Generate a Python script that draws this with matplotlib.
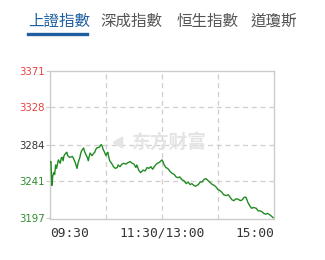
import matplotlib
matplotlib.use("Agg")
import matplotlib.pyplot as plt

# Index tabs
tabs = ["上證指數", "深成指數", "恒生指數", "道瓊斯"]
tab_x = [28, 100, 177, 251]

# Intraday series: minutes since 09:30 (trading minutes), index level
minutes = [0, 1, 2, 3, 4, 5, 6, 7, 9, 11, 12, 13, 14, 15, 17, 18, 19, 21, 24, 25,
           27, 29, 30, 32, 33, 34, 36, 37, 39, 40, 41, 42, 43, 45, 47, 48, 49, 50, 53, 54,
           55, 56, 57, 58, 60, 61, 62, 63, 64, 66, 68, 70, 72, 73, 75, 77, 79, 81, 84, 86,
           88, 90, 92, 93, 95, 97, 100, 102, 104, 106, 108, 110, 113, 115, 117, 118, 120, 121, 122, 124,
           126, 129, 131, 133, 135, 137, 139, 141, 144, 146, 148, 150, 152, 154, 156, 159, 161, 163, 165, 167,
           169, 171, 174, 176, 178, 180, 182, 184, 186, 189, 191, 193, 195, 197, 199, 201, 204, 206, 208, 210,
           212, 214, 216, 218, 221, 223, 225, 227, 229, 231, 233, 236, 238, 239]
prices = [3264, 3264, 3236, 3247, 3251, 3249, 3260, 3256, 3266, 3262, 3268, 3269, 3265, 3271, 3274, 3275, 3271, 3269, 3270, 3268,
          3263, 3256, 3262, 3269, 3274, 3277, 3280, 3276, 3271, 3269, 3265, 3270, 3274, 3271, 3274, 3275, 3278, 3280, 3281, 3283,
          3284, 3282, 3278, 3276, 3271, 3274, 3275, 3269, 3265, 3262, 3258, 3256, 3257, 3260, 3258, 3261, 3262, 3261, 3263, 3264,
          3262, 3261, 3257, 3260, 3254, 3251, 3254, 3253, 3257, 3256, 3258, 3255, 3260, 3262, 3263, 3264, 3266, 3264, 3261, 3257,
          3256, 3252, 3250, 3249, 3246, 3245, 3246, 3243, 3241, 3238, 3240, 3237, 3238, 3236, 3235, 3237, 3240, 3240, 3243, 3244,
          3242, 3240, 3237, 3236, 3234, 3231, 3230, 3228, 3225, 3224, 3225, 3222, 3219, 3218, 3220, 3220, 3218, 3219, 3222, 3222,
          3216, 3212, 3209, 3210, 3209, 3206, 3206, 3205, 3203, 3202, 3203, 3201, 3199, 3198]

y_ticks = [3197, 3241, 3284, 3328, 3371]
y_colors = ["#2e8b2e", "#2e8b2e", "#333333", "#e8413e", "#e8413e"]
x_ticks = [0, 120, 240]
x_labels = ["09:30", "11:30/13:00", "15:00"]
x_grid = [60, 120, 180]

W, H = 325, 260
fig = plt.figure(figsize=(W / 100, H / 100), dpi=100)
fig.patch.set_facecolor("white")

cjk = ["Noto Sans CJK TC", "Noto Sans CJK SC", "DejaVu Sans"]

# Tab row
for i, (t, x) in enumerate(zip(tabs, tab_x)):
    fig.text(x / W, 1 - 21.5 / H, t, fontsize=11.2, family=cjk,
             color="#1f5fa0" if i == 0 else "#555555", ha="left", va="center")
fig.add_artist(plt.Line2D([28 / W, 87 / W], [1 - 33.5 / H, 1 - 33.5 / H],
                          color="#1f5fa0", lw=2.4, transform=fig.transFigure))

left, right, top, bottom = 50, 274, 70.7, 218.5
ax = fig.add_axes([left / W, 1 - bottom / H, (right - left) / W, (bottom - top) / H])
ax.set_xlim(0, 240)
ax.set_ylim(3197, 3371)

for g in x_grid:
    ax.axvline(g, color="#cfcfcf", lw=0.9, ls=(0, (4, 3)), zorder=1)
for g in y_ticks[1:-1]:
    ax.axhline(g, color="#cfcfcf", lw=0.9, ls=(0, (4, 3)), zorder=1)

# Faint watermark
ax.text(0.535, 0.515, "东方财富", transform=ax.transAxes, fontsize=13.5,
        family=cjk, fontweight="bold", color="#e4e4e4", ha="center", va="center", zorder=1)
ax.plot([0.31], [0.515], marker=(3, 0, 90), markersize=9, color="#e4e4e4",
        transform=ax.transAxes, zorder=1)

ax.plot(minutes, prices, color="#228b22", lw=1.0, zorder=3)

for s in ax.spines.values():
    s.set_color("#cccccc")
    s.set_linewidth(1.0)

ax.set_yticks(y_ticks)
ax.set_yticklabels([str(v) for v in y_ticks], fontsize=7.3, family="DejaVu Sans")
for lbl, c in zip(ax.get_yticklabels(), y_colors):
    lbl.set_color(c)
ax.tick_params(axis="y", length=3, color="#cccccc", pad=1)

ax.set_xticks(x_ticks)
ax.set_xticklabels(x_labels, fontsize=9.3, family="DejaVu Sans Mono", color="#333333")
ax.tick_params(axis="x", length=0, pad=6)
xl = ax.get_xticklabels()
xl[0].set_ha("left")
xl[1].set_ha("center")
xl[2].set_ha("right")

fig.savefig("out.png", dpi=100, facecolor="white")
